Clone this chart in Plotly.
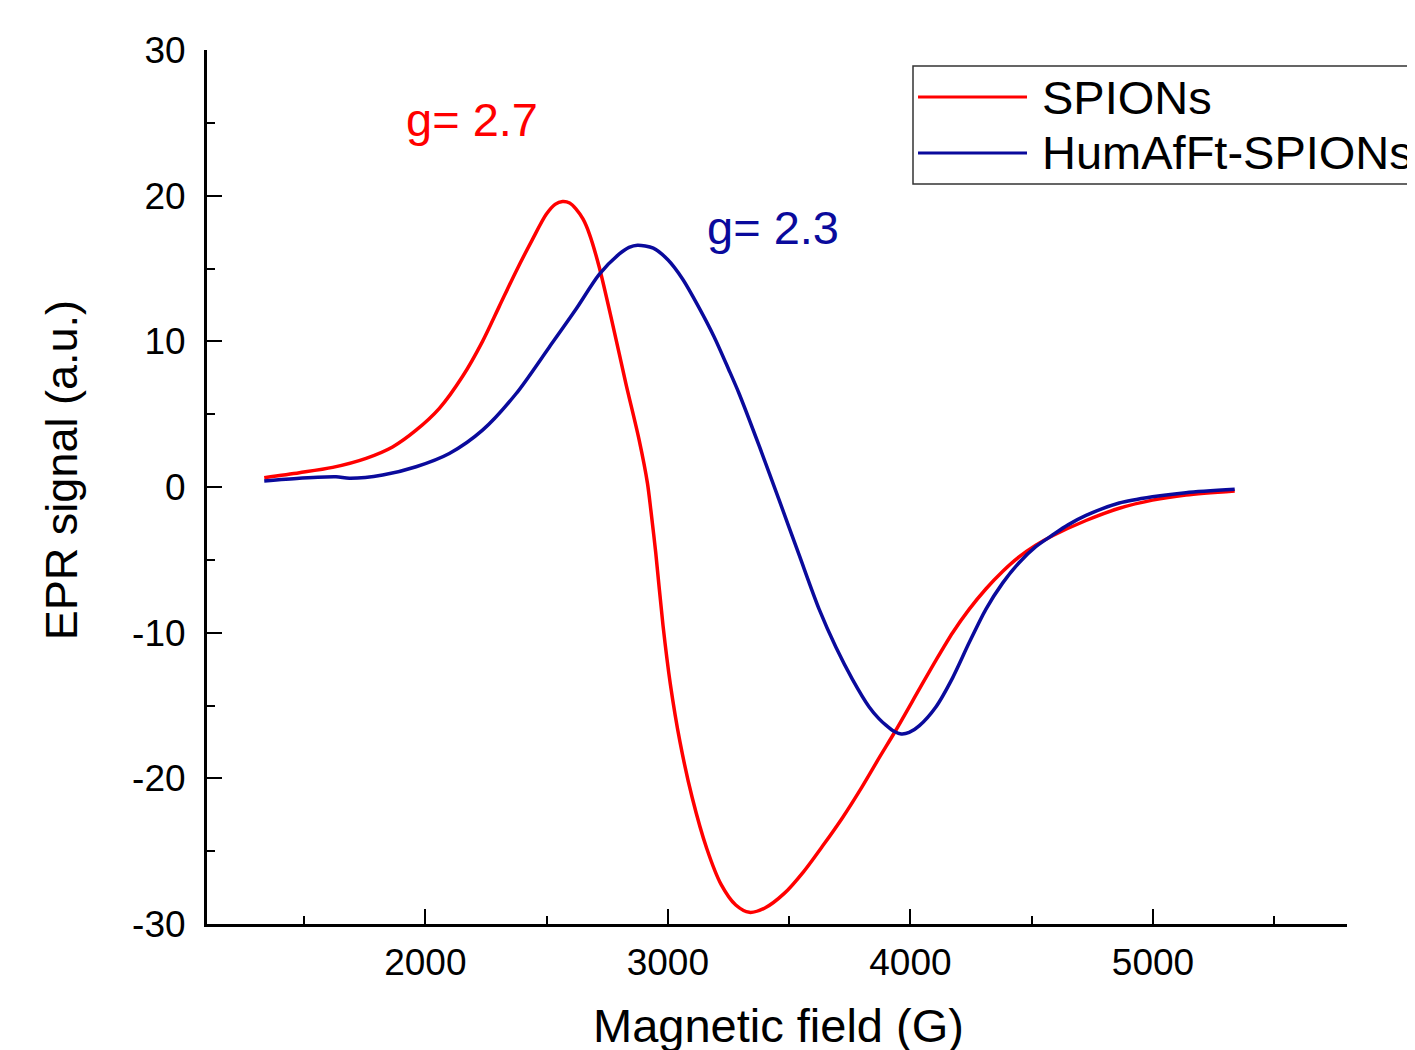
import plotly.graph_objects as go

# ---- data ----
spions_field = [1336, 1481, 1618, 1756, 1865, 1962, 2058, 2154, 2236, 2305, 2374, 2442,
                2498, 2535, 2566, 2595, 2621, 2650, 2676, 2717, 2772, 2827, 2882, 2916,
                2930, 2950, 2980, 3010, 3050, 3100, 3160, 3220, 3280, 3336, 3400, 3480,
                3560, 3640, 3720, 3800, 3871, 3940, 4036, 4105, 4174, 4242, 4311, 4380,
                4448, 4517, 4586, 4724, 4861, 4998, 5136, 5337]
spions_signal = [0.64, 0.98, 1.35, 1.97, 2.75, 3.9, 5.4, 7.6, 10.0, 12.4, 14.8, 17.0,
                 18.7, 19.4, 19.6, 19.5, 19.1, 18.4, 17.4, 15.1, 11.2, 7.1, 3.2, 0.25,
                 -1.6, -4.5, -9.5, -13.5, -17.5, -21.3, -24.8, -27.3, -28.7, -29.2, -28.9, -27.9,
                 -26.4, -24.6, -22.7, -20.6, -18.6, -16.7, -13.9, -11.9, -10.0, -8.4, -7.0, -5.8,
                 -4.8, -4.0, -3.35, -2.3, -1.46, -0.9, -0.55, -0.27]

hum_field = [1336, 1481, 1632, 1687, 1824, 1962, 2099, 2236, 2374, 2511, 2621, 2717,
             2800, 2840, 2875, 2940, 3000, 3060, 3129, 3191, 3250, 3294, 3377, 3459, 3542, 3624,
             3693, 3761, 3830, 3870, 3899, 3930, 3962, 3995, 4036, 4105, 4174, 4242, 4311, 4380,
             4448, 4517, 4586, 4650, 4724, 4861, 4998, 5136, 5337]
hum_signal = [0.41, 0.6, 0.71, 0.6, 0.82, 1.39, 2.3, 3.9, 6.4, 9.6, 12.2, 14.6,
              16.0, 16.45, 16.6, 16.4, 15.6, 14.3, 12.3, 10.3, 8.1, 6.4, 2.8, -0.9, -4.7, -8.4,
              -11.0, -13.2, -15.1, -15.9, -16.35, -16.75, -16.95, -16.85, -16.4, -15.1, -13.1, -10.7, -8.4, -6.6,
              -5.2, -4.1, -3.3, -2.6, -1.95, -1.1, -0.67, -0.39, -0.16]

series_names = ["SPIONs", "HumAfFt-SPIONs"]
series_colors = ["#FF0000", "#0A0A9C"]

x_major = [2000, 3000, 4000, 5000]
x_minor = [1500, 2500, 3500, 4500, 5500]
y_major = [-30, -20, -10, 0, 10, 20, 30]
y_major_text = ["-30", "-20", "-10", "0", "10", "20", "30"]
y_minor = [-25, -15, -5, 5, 15, 25]

FONT = "Arial, Liberation Sans, sans-serif"

fig = go.Figure()
fig.add_trace(go.Scatter(x=spions_field, y=spions_signal, mode="lines", name=series_names[0],
                         line=dict(color=series_colors[0], width=3.5, shape="spline", smoothing=0.8),
                         showlegend=False))
fig.add_trace(go.Scatter(x=hum_field, y=hum_signal, mode="lines", name=series_names[1],
                         line=dict(color=series_colors[1], width=3.5, shape="spline", smoothing=0.8),
                         showlegend=False))

fig.update_layout(
    width=1415, height=1050,
    margin=dict(l=199, r=76, t=42, b=134),
    paper_bgcolor="white", plot_bgcolor="white",
    font=dict(family=FONT, color="black"),
    xaxis=dict(range=[1100, 5800], showgrid=False, zeroline=False,
               showline=True, linecolor="black", linewidth=3,
               ticks="inside", ticklen=15, tickwidth=2, tickcolor="black",
               tickmode="array", tickvals=x_major, ticktext=[str(v) for v in x_major],
               tickfont=dict(size=37, family=FONT), ticklabelstandoff=4,
               minor=dict(ticks="inside", ticklen=8, tickwidth=2, tickcolor="black",
                          tickmode="array", tickvals=x_minor)),
    yaxis=dict(range=[-30, 30], showgrid=False, zeroline=False,
               showline=True, linecolor="black", linewidth=3,
               ticks="inside", ticklen=15, tickwidth=2, tickcolor="black",
               tickmode="array", tickvals=y_major, ticktext=y_major_text,
               tickfont=dict(size=37, family=FONT), ticklabelstandoff=11,
               minor=dict(ticks="inside", ticklen=8, tickwidth=2, tickcolor="black",
                          tickmode="array", tickvals=y_minor)),
)

# axis titles
fig.add_annotation(text="Magnetic field (G)", xref="paper", yref="paper", x=0.5009, y=-0.1165,
                   showarrow=False, font=dict(size=47, family=FONT), xanchor="center", yanchor="middle")
fig.add_annotation(text="EPR signal (a.u.)", xref="paper", yref="paper", x=-0.127, y=0.5195,
                   showarrow=False, textangle=-90, font=dict(size=45, family=FONT),
                   xanchor="center", yanchor="middle")

# g-value annotations
fig.add_annotation(text="g= 2.7", x=2194, y=25.2, showarrow=False,
                   font=dict(size=47, family=FONT, color=series_colors[0]))
fig.add_annotation(text="g= 2.3", x=3434, y=17.8, showarrow=False,
                   font=dict(size=47, family=FONT, color=series_colors[1]))

# legend (box runs past the right edge as in the reference)
fig.add_shape(type="rect", xref="paper", yref="paper", x0=0.6193, x1=1.08, y0=0.8467, y1=0.9817,
              line=dict(color="#333333", width=1.5), fillcolor="white", layer="above")
legend_y = [0.9462, 0.8822]
for name, color, ly in zip(series_names, series_colors, legend_y):
    fig.add_shape(type="line", xref="paper", yref="paper", x0=0.6237, x1=0.7193, y0=ly, y1=ly,
                  line=dict(color=color, width=3), layer="above")
    fig.add_annotation(text=name, xref="paper", yref="paper", x=0.7307, y=ly, xanchor="left",
                       yanchor="middle", showarrow=False, font=dict(size=47, family=FONT))

fig.write_html("out.html")
